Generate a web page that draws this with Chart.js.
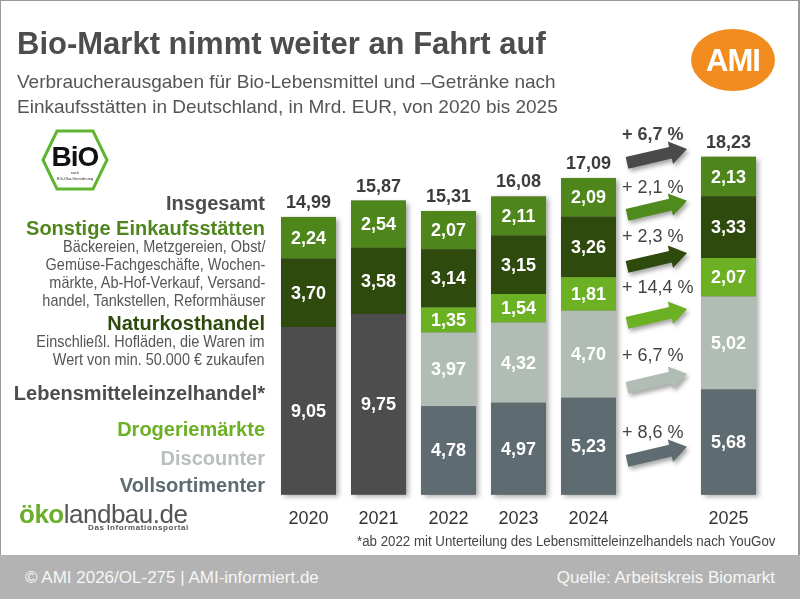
<!DOCTYPE html>
<html lang="de">
<head>
<meta charset="utf-8">
<title>Bio-Markt nimmt weiter an Fahrt auf</title>
<script src="https://cdn.jsdelivr.net/npm/chart.js@4.4.1/dist/chart.umd.min.js"></script>
<style>
  body { margin: 0; width: 800px; height: 599px; overflow: hidden; background: #fff;
         font-family: "Liberation Sans", Arial, sans-serif; position: relative; }
  #frame { position: absolute; left: 0; top: 0; width: 797px; height: 596px; border: 1px solid #9a9a9a; border-width: 1px 2px 2px 1px; }
  #chart { position: absolute; left: 0; top: 0; }
  .t { position: absolute; white-space: nowrap; }
  h1 { position: absolute; left: 17px; top: 24px; margin: 0; font-size: 31px; line-height: 40px; color: #4d4d4d; }
  .sub { left: 17px; top: 69px; font-size: 19px; line-height: 25px; color: #555; }
  .lab { right: 535px; text-align: right; font-weight: bold; font-size: 20px; line-height: 24px; }
  .desc { right: 535px; text-align: right; font-size: 17px; line-height: 18px; color: #555;
          transform: scaleX(0.85); transform-origin: right top; }
  #foot { position: absolute; left: 0; top: 555px; width: 800px; height: 44px; background: #b3b3b3; }
  .ft { top: 567px; font-size: 17px; line-height: 22px; color: #f6f6f6; }
</style>
</head>
<body>
<div id="frame"></div>
<canvas id="chart" width="800" height="599"></canvas>

<h1>Bio-Markt nimmt weiter an Fahrt auf</h1>
<div class="t sub">Verbraucherausgaben für Bio-Lebensmittel und –Getränke nach<br>Einkaufsstätten in Deutschland, in Mrd. EUR, von 2020 bis 2025</div>

<svg class="t" style="left:690px;top:28px" width="88" height="66">
  <ellipse cx="43" cy="32" rx="42" ry="31" fill="#f28c1f"/>
  <text x="43" y="43" text-anchor="middle" font-family="Liberation Sans, Arial" font-weight="bold" font-size="31" fill="#fff" letter-spacing="-1">AMI</text>
</svg>

<svg class="t" style="left:40px;top:128px" width="70" height="64">
  <polygon points="3,32 17,3 53,3 67,32 53,61 17,61" fill="#fff" stroke="#5fb532" stroke-width="3"/>
  <text x="35" y="38" text-anchor="middle" font-family="Liberation Sans, Arial" font-weight="bold" font-size="28" fill="#111" letter-spacing="-1">BiO</text>
  <text x="35" y="46" text-anchor="middle" font-family="Liberation Sans, Arial" font-size="4" fill="#333">nach</text>
  <text x="35" y="52" text-anchor="middle" font-family="Liberation Sans, Arial" font-size="4" fill="#333">EG-Öko-Verordnung</text>
</svg>

<div class="t lab" style="top:191px;color:#4d4d4d">Insgesamt</div>
<div class="t lab" style="top:216px;color:#4e861c">Sonstige Einkaufsstätten</div>
<div class="t desc" style="top:238px">Bäckereien, Metzgereien, Obst/<br>Gemüse-Fachgeschäfte, Wochen-<br>märkte, Ab-Hof-Verkauf, Versand-<br>handel, Tankstellen, Reformhäuser</div>
<div class="t lab" style="top:311px;color:#2e4a0d">Naturkosthandel</div>
<div class="t desc" style="top:333px">Einschließl. Hofläden, die Waren im<br>Wert von min. 50.000 € zukaufen</div>
<div class="t lab" style="top:381px;color:#4d4d4d">Lebensmitteleinzelhandel*</div>
<div class="t lab" style="top:417px;color:#6cb023">Drogeriemärkte</div>
<div class="t lab" style="top:446px;color:#b9c0bc">Discounter</div>
<div class="t lab" style="top:473px;color:#5e6b70">Vollsortimenter</div>

<div class="t" style="left:19px;top:499px;font-size:26px;line-height:30px;letter-spacing:-0.5px">
  <span style="color:#6aae2a;font-weight:bold">öko</span><span style="color:#555">landbau.de</span>
</div>
<div class="t" style="left:88px;top:523px;font-size:8px;line-height:10px;font-weight:bold;color:#555;letter-spacing:0.6px">Das Informationsportal</div>

<div class="t" style="left:357px;top:532px;font-size:14px;line-height:18px;color:#444;transform:scaleX(0.95);transform-origin:left top">*ab 2022 mit Unterteilung des Lebensmitteleinzelhandels nach YouGov</div>

<div id="foot"></div>
<div class="t ft" style="left:25px">© AMI 2026/OL-275 | AMI-informiert.de</div>
<div class="t ft" style="right:25px">Quelle: Arbeitskreis Biomarkt</div>

<script>
const years = ['2020', '2021', '2022', '2023', '2024', '', '2025'];

const leh = [9.05, 9.75, null, null, null, null, null];
const vollsortimenter = [null, null, 4.78, 4.97, 5.23, null, 5.68];
const discounter = [null, null, 3.97, 4.32, 4.70, null, 5.02];
const drogerie = [null, null, 1.35, 1.54, 1.81, null, 2.07];
const naturkost = [3.70, 3.58, 3.14, 3.15, 3.26, null, 3.33];
const sonstige = [2.24, 2.54, 2.07, 2.11, 2.09, null, 2.13];
const totals = [14.99, 15.87, 15.31, 16.08, 17.09, null, 18.23];

// change 2024 -> 2025: total, sonstige, naturkost, drogerie, discounter, vollsortimenter
const changeLabels = ['+ 6,7 %', '+ 2,1 %', '+ 2,3 %', '+ 14,4 %', '+ 6,7 %', '+ 8,6 %'];

const FONT = '"Liberation Sans", Arial, sans-serif';
const fmt = v => v.toFixed(2).replace('.', ',');

// soft shadow behind each whole column
const columnShadow = {
  id: 'columnShadow',
  beforeDatasetsDraw(chart) {
    const ctx = chart.ctx;
    const metas = chart.data.datasets.map((d, i) => chart.getDatasetMeta(i));
    ctx.save();
    ctx.shadowColor = 'rgba(0,0,0,0.35)';
    ctx.shadowBlur = 5;
    ctx.shadowOffsetX = 3;
    ctx.shadowOffsetY = 2;
    ctx.fillStyle = '#777';
    years.forEach((y, j) => {
      let top = null, base = null, x = null, w = null;
      metas.forEach((m, i) => {
        if (chart.data.datasets[i].data[j] == null) return;
        const bar = m.data[j];
        top = top == null ? bar.y : Math.min(top, bar.y);
        base = base == null ? bar.base : Math.max(base, bar.base);
        x = bar.x; w = bar.width;
      });
      if (top == null) return;
      ctx.fillRect(x - w / 2, top, w, base - top);
    });
    ctx.restore();
  }
};

const valueLabels = {
  id: 'valueLabels',
  afterDatasetsDraw(chart) {
    const ctx = chart.ctx;
    ctx.save();
    ctx.textAlign = 'center';
    ctx.textBaseline = 'middle';
    ctx.font = 'bold 18px ' + FONT;
    ctx.fillStyle = '#fff';
    chart.data.datasets.forEach((ds, i) => {
      chart.getDatasetMeta(i).data.forEach((bar, j) => {
        if (ds.data[j] == null) return;
        ctx.fillText(fmt(ds.data[j]), bar.x, (bar.y + bar.base) / 2 + 1);
      });
    });
    const last = chart.getDatasetMeta(chart.data.datasets.length - 1);
    ctx.fillStyle = '#3c3c3c';
    totals.forEach((t, j) => {
      if (t == null) return;
      const bar = last.data[j];
      ctx.fillText(fmt(t), bar.x, bar.y - 14);
    });
    ctx.restore();
  }
};

// arrows between 2024 and 2025 with growth rates
const growthArrows = {
  id: 'growthArrows',
  afterDatasetsDraw(chart) {
    const ctx = chart.ctx;
    const xs = chart.scales.x, ys = chart.scales.y;
    const half = chart.getDatasetMeta(5).data[4].width / 2;
    const x1 = xs.getPixelForValue(4) + half + 11;
    const x2 = xs.getPixelForValue(6) - half - 14;
    const arrowAt = [18.28, 15.48, 12.67, 9.65, 6.15, 2.21];
    const labelAt = [19.42, 16.56, 13.92, 11.17, 7.5, 3.34];
    const colors = ['#4a4a4a', '#4f8a1d', '#2e4a0d', '#6cb023', '#b1bcb4', '#5e6b70'];
    arrowAt.forEach((v, k) => {
      const cy = ys.getPixelForValue(v);
      const ax = x1, ay = cy + 7, bx = x2, by = cy - 7;
      const len = Math.hypot(bx - ax, by - ay);
      const ux = (bx - ax) / len, uy = (by - ay) / len;
      const nx = -uy, ny = ux;
      const hl = 17, bw = 6, hw = 11.5;
      const hx = bx - ux * hl, hy = by - uy * hl;
      ctx.save();
      ctx.shadowColor = 'rgba(0,0,0,0.35)';
      ctx.shadowBlur = 4;
      ctx.shadowOffsetX = 2;
      ctx.shadowOffsetY = 3;
      ctx.fillStyle = colors[k];
      ctx.beginPath();
      ctx.moveTo(ax + nx * bw, ay + ny * bw);
      ctx.lineTo(hx + nx * bw, hy + ny * bw);
      ctx.lineTo(hx + nx * hw, hy + ny * hw);
      ctx.lineTo(bx, by);
      ctx.lineTo(hx - nx * hw, hy - ny * hw);
      ctx.lineTo(hx - nx * bw, hy - ny * bw);
      ctx.lineTo(ax - nx * bw, ay - ny * bw);
      ctx.closePath();
      ctx.fill();
      ctx.restore();

      ctx.save();
      ctx.font = (k === 0 ? 'bold ' : '') + '18px ' + FONT;
      ctx.fillStyle = '#444';
      ctx.textAlign = 'left';
      ctx.textBaseline = 'middle';
      ctx.fillText(changeLabels[k], x1 - 5, ys.getPixelForValue(labelAt[k]));
      ctx.restore();
    });
  }
};

const ctx = document.getElementById('chart').getContext('2d');
new Chart(ctx, {
  type: 'bar',
  data: {
    labels: years,
    datasets: [
      { label: 'Lebensmitteleinzelhandel', data: leh, backgroundColor: '#4d4d4d' },
      { label: 'Vollsortimenter', data: vollsortimenter, backgroundColor: '#5e6b70' },
      { label: 'Discounter', data: discounter, backgroundColor: '#b1bcb4' },
      { label: 'Drogeriemärkte', data: drogerie, backgroundColor: '#6cb023' },
      { label: 'Naturkosthandel', data: naturkost, backgroundColor: '#2e4a0d' },
      { label: 'Sonstige Einkaufsstätten', data: sonstige, backgroundColor: '#4e861c' }
    ]
  },
  options: {
    responsive: false,
    animation: false,
    layout: { padding: { left: 273.5, right: 36.5, top: 124, bottom: 56.6 } },
    datasets: { bar: { barPercentage: 1, categoryPercentage: 0.786, borderWidth: 0 } },
    scales: {
      x: {
        stacked: true,
        grid: { display: false, drawTicks: false },
        border: { display: false },
        ticks: { color: '#333', font: { family: FONT, size: 18 }, padding: 13, autoSkip: false, maxRotation: 0 }
      },
      y: { stacked: true, display: false, min: 0, max: 20 }
    },
    plugins: {
      legend: { display: false },
      tooltip: { enabled: false }
    }
  },
  plugins: [columnShadow, valueLabels, growthArrows]
});
</script>
</body>
</html>
